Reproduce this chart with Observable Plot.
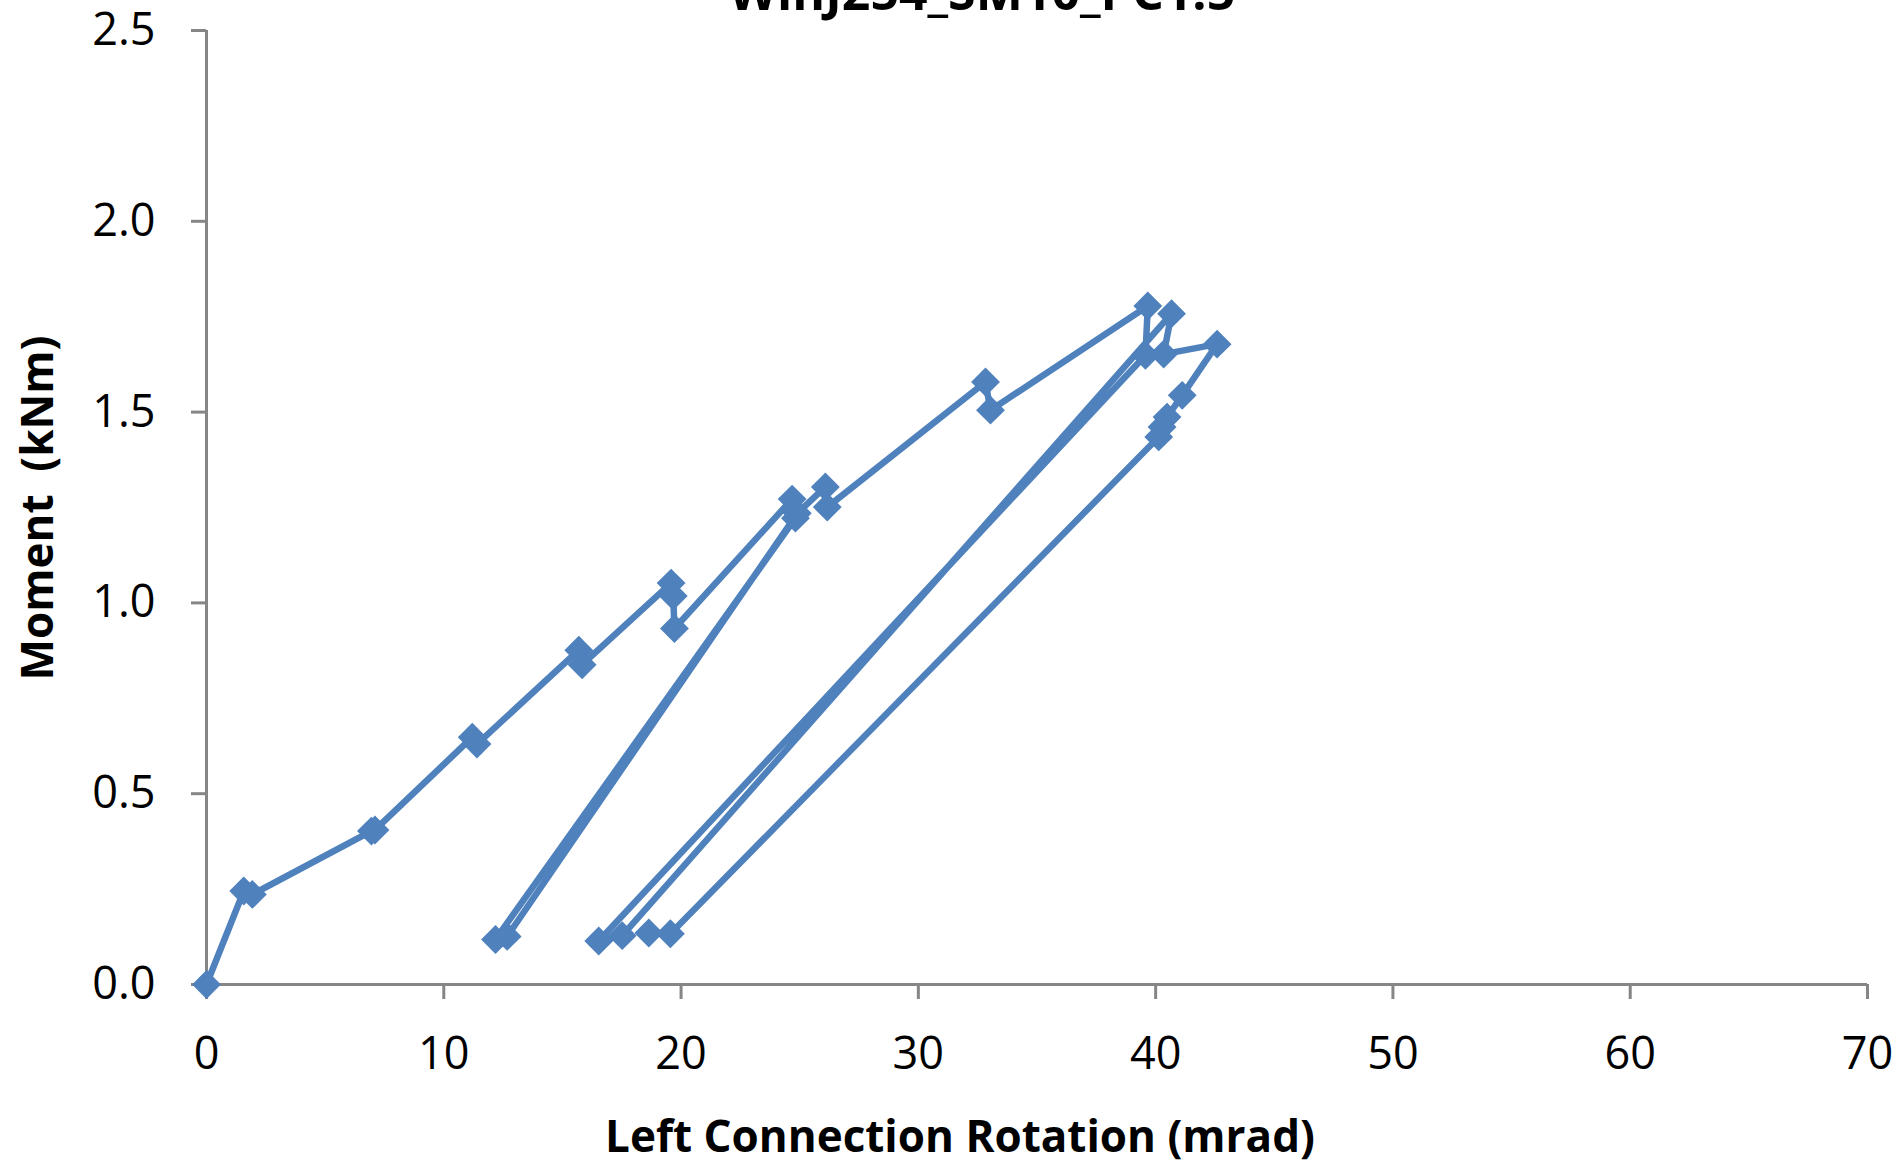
<!DOCTYPE html>
<html>
<head>
<meta charset="utf-8">
<script src="https://cdn.jsdelivr.net/npm/d3@7"></script>
<script src="https://cdn.jsdelivr.net/npm/@observablehq/plot@0.6"></script>
<style>
  html, body { margin: 0; padding: 0; background: white; }
  #wrap { position: relative; width: 1897px; height: 1165px; overflow: hidden; background: white; }
  .lbl { position: absolute; font-family: "Open Sans", sans-serif; font-weight: bold; color: black; white-space: pre; line-height: 1; }
</style>
</head>
<body>
<div id="wrap"></div>
<script>
// Chart data
const rotation = [0, 1.57, 1.93, 6.95, 7.1, 11.2, 11.4, 15.69, 15.83, 19.58, 19.67, 19.72, 24.68, 24.82, 12.18, 12.67, 24.9, 26.08, 26.16, 32.83, 33.04, 39.67, 39.57, 16.53, 17.52, 40.67, 40.34, 42.59, 41.12, 40.48, 40.27, 40.13, 19.55, 18.64];
const moment   = [0, 0.245, 0.236, 0.402, 0.405, 0.648, 0.630, 0.876, 0.838, 1.052, 1.018, 0.933, 1.272, 1.222, 0.118, 0.126, 1.235, 1.304, 1.251, 1.579, 1.505, 1.778, 1.649, 0.114, 0.128, 1.758, 1.652, 1.678, 1.544, 1.487, 1.461, 1.435, 0.133, 0.135];
const xTicks = [0, 10, 20, 30, 40, 50, 60, 70];
const yTicks = [0, 0.5, 1.0, 1.5, 2.0, 2.5];
const titleText = "WinJ254_SM10_PC1.5";
const xLabel = "Left Connection Rotation (mrad)";
const yLabel = "Moment  (kNm)";

const points = rotation.map((r, i) => ({rotation: r, moment: moment[i]}));
const blue = "#4F81BD";
const axisGray = "#868686";

const chart = Plot.plot({
  width: 1897,
  height: 1165,
  marginLeft: 206,
  marginRight: 30,
  marginTop: 30,
  marginBottom: 181,
  style: {fontFamily: "'Open Sans', sans-serif", fontSize: "45px", color: "black", background: "white", overflow: "visible"},
  x: {domain: [0, 70]},
  y: {domain: [0, 2.5]},
  marks: [
    Plot.ruleX([0], {stroke: axisGray, strokeWidth: 3}),
    Plot.ruleY([0], {stroke: axisGray, strokeWidth: 3}),
    Plot.axisX({ticks: xTicks, tickSize: 15, tickPadding: 38, stroke: axisGray, strokeWidth: 3, strokeOpacity: 1, fill: "black", label: null, tickFormat: d => String(d)}),
    Plot.axisY({ticks: yTicks, tickSize: 15, tickPadding: 36, stroke: axisGray, strokeWidth: 3, strokeOpacity: 1, fill: "black", label: null, tickFormat: d3.format(".1f")}),
    Plot.line(points, {x: "rotation", y: "moment", stroke: blue, strokeWidth: 6.5, strokeLinejoin: "round", strokeLinecap: "round"}),
    Plot.dot(points, {x: "rotation", y: "moment", symbol: "diamond2", r: 13, fill: blue, stroke: "none"})
  ]
});

const wrap = document.getElementById("wrap");
wrap.appendChild(chart);
chart.style.position = "absolute";
chart.style.left = "0px";
chart.style.top = "0px";

const title = document.createElement("div");
title.className = "lbl";
title.textContent = titleText;
title.style.fontSize = "50px";
title.style.left = "982px";
title.style.top = "-34px";
title.style.transform = "translateX(-50%)";
wrap.appendChild(title);

const xl = document.createElement("div");
xl.className = "lbl";
xl.textContent = xLabel;
xl.style.fontSize = "44px";
xl.style.left = "960px";
xl.style.top = "1113px";
xl.style.transform = "translateX(-50%)";
wrap.appendChild(xl);

const yl = document.createElement("div");
yl.className = "lbl";
yl.textContent = yLabel;
yl.style.fontSize = "44px";
yl.style.left = "36px";
yl.style.top = "508px";
yl.style.transform = "translate(-50%, -50%) rotate(-90deg)";
wrap.appendChild(yl);
</script>
</body>
</html>
